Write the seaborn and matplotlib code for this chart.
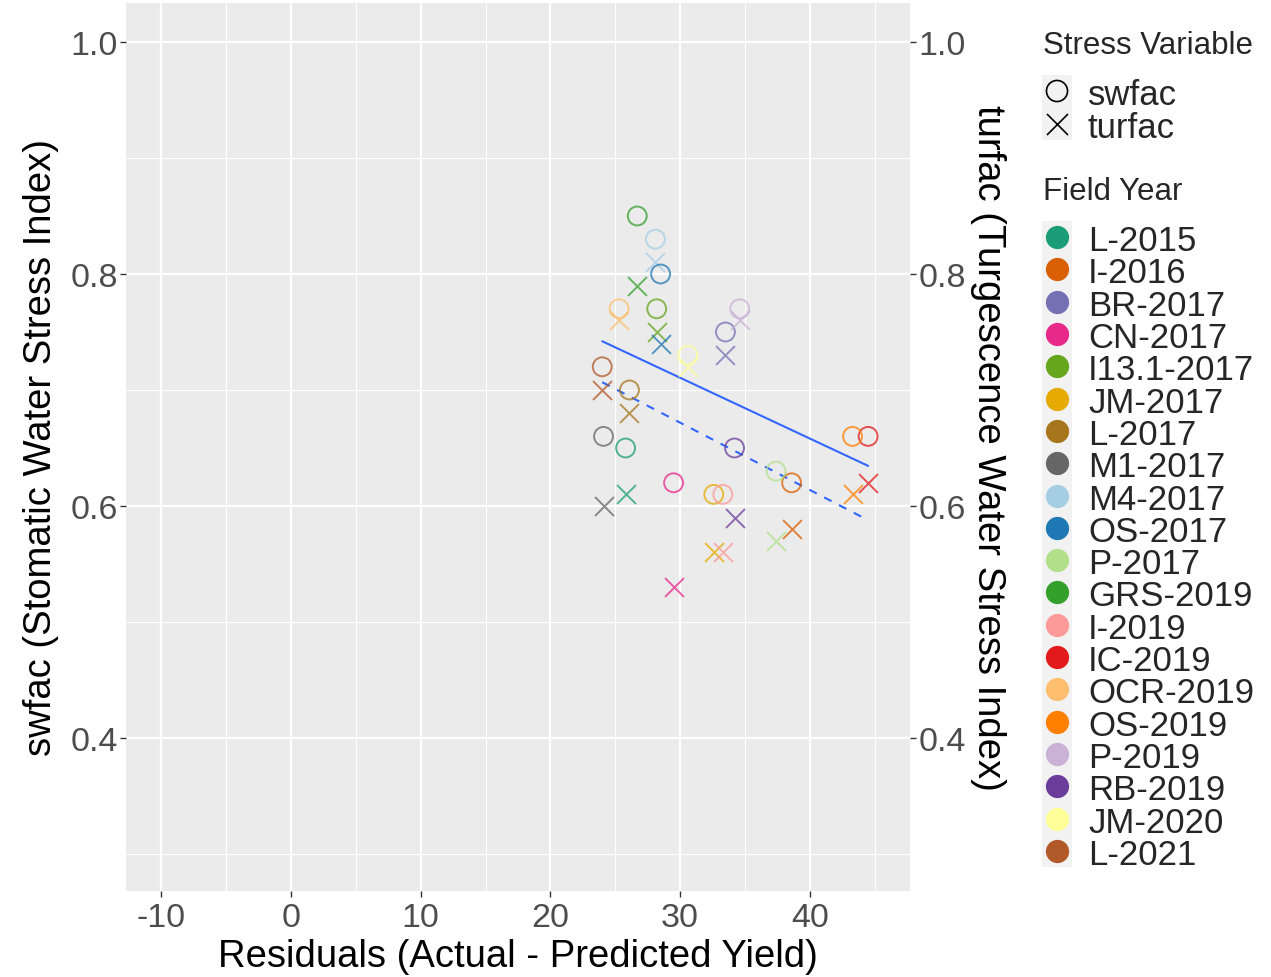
import numpy as np
import pandas as pd
import matplotlib
matplotlib.use("Agg")
import matplotlib.pyplot as plt
import seaborn as sns

# ---- data ----
field_years = ["L-2015", "I-2016", "BR-2017", "CN-2017", "I13.1-2017", "JM-2017", "L-2017",
               "M1-2017", "M4-2017", "OS-2017", "P-2017", "GRS-2019", "I-2019", "IC-2019",
               "OCR-2019", "OS-2019", "P-2019", "RB-2019", "JM-2020", "L-2021"]
residuals = [25.8, 38.6, 33.5, 29.5, 28.2, 32.6, 26.1, 24.1, 28.1, 28.5, 37.4, 26.7, 33.3,
             44.5, 25.3, 43.3, 34.6, 34.2, 30.6, 24.0]
swfac = [0.65, 0.62, 0.75, 0.62, 0.77, 0.61, 0.70, 0.66, 0.83, 0.80, 0.63, 0.85, 0.61,
         0.66, 0.77, 0.66, 0.77, 0.65, 0.73, 0.72]
turfac = [0.61, 0.58, 0.73, 0.53, 0.75, 0.56, 0.68, 0.60, 0.81, 0.74, 0.57, 0.79, 0.56,
          0.62, 0.76, 0.61, 0.76, 0.59, 0.72, 0.70]
colors = ["#1b9e77", "#d95f02", "#7570b3", "#e7298a", "#66a61e", "#e6ab02", "#a6761d",
          "#666666", "#a6cee3", "#1f78b4", "#b2df8a", "#33a02c", "#fb9a99", "#e31a1c",
          "#fdbf6f", "#ff7f00", "#cab2d6", "#6a3d9a", "#ffff99", "#b15928"]
stress_vars = ["swfac", "turfac"]
x_ticks = [-10, 0, 10, 20, 30, 40]
y_ticks = [0.4, 0.6, 0.8, 1.0]

df = pd.DataFrame({"field": field_years, "resid": residuals, "swfac": swfac, "turfac": turfac})

sns.set_theme(style="darkgrid")
plt.rcParams["font.family"] = ["Liberation Sans", "DejaVu Sans"]

W, H = 1271, 978
fig = plt.figure(figsize=(W / 100, H / 100), dpi=100)
L, R, T, B = 126, 910, 4, 892
ax = fig.add_axes([L / W, 1 - B / H, (R - L) / W, (B - T) / H])
ax.set_facecolor("#EBEBEB")
for s in ax.spines.values():
    s.set_visible(False)

xlim = (-12.72, 47.73)
ylim = (0.2681, 1.0336)
ax.set_xlim(*xlim)
ax.set_ylim(*ylim)
ax.set_xticks(x_ticks)
ax.set_yticks(y_ticks)
ax.set_xticks([-5, 5, 15, 25, 35, 45], minor=True)
ax.set_yticks([0.3, 0.5, 0.7, 0.9], minor=True)
ax.grid(which="major", color="white", linewidth=1.6)
ax.grid(which="minor", color="white", linewidth=0.8)
ax.set_axisbelow(True)
TICK_FS = 24.5
ax.tick_params(which="major", length=4, width=1.0, color="#333333", labelsize=TICK_FS,
               labelcolor="#4D4D4D", pad=2, left=True, bottom=True)
ax.tick_params(axis="x", which="major", pad=4)
ax.tick_params(which="minor", length=0)
ax.set_yticklabels([f"{v:.1f}" for v in y_ticks])
ax.set_xticklabels([str(v) for v in x_ticks])

# regression lines
sns.regplot(data=df, x="resid", y="swfac", scatter=False, ci=None, ax=ax,
            line_kws=dict(color="#3366FF", linewidth=1.5, linestyle="-"))
sns.regplot(data=df, x="resid", y="turfac", scatter=False, ci=None, ax=ax,
            line_kws=dict(color="#3366FF", linewidth=1.5, linestyle=(0, (4, 4))))
ax.set_xlim(*xlim)
ax.set_ylim(*ylim)

# points
for i in range(len(field_years)):
    ax.scatter(residuals[i], swfac[i], s=185, facecolors="none", edgecolors=colors[i],
               linewidths=1.4, alpha=0.75, zorder=3)
    ax.scatter(residuals[i], turfac[i], s=185, marker="x", color=colors[i],
               linewidths=1.4, alpha=0.75, zorder=3)

AX_FS = 27.5
ax.set_xlabel("Residuals (Actual - Predicted Yield)", fontsize=AX_FS, color="black")
ax.xaxis.set_label_coords(0.5, -(957 - B) / (B - T))
ax.xaxis.label.set_va("center")
ax.set_ylabel("swfac (Stomatic Water Stress Index)", fontsize=AX_FS, color="black")
ax.yaxis.set_label_coords((41 - L) / (R - L), 0.5)
ax.yaxis.label.set_va("center")

ax2 = ax.twinx()
ax2.set_ylim(*ylim)
ax2.set_yticks(y_ticks)
ax2.set_yticklabels([f"{v:.1f}" for v in y_ticks])
ax2.grid(False)
for s in ax2.spines.values():
    s.set_visible(False)
ax2.tick_params(which="major", length=4, width=1.0, color="#333333", labelsize=TICK_FS,
                labelcolor="#4D4D4D", pad=2, right=True)
ax2.set_ylabel("turfac (Turgescence Water Stress Index)", fontsize=AX_FS, color="black",
               rotation=270, va="center")
ax2.yaxis.set_label_coords((988 - L) / (R - L), 0.5)

# legends (manual, pixel coords)
lg = fig.add_axes([0, 0, 1, 1])
lg.set_xlim(0, W)
lg.set_ylim(H, 0)
lg.axis("off")
lg.patch.set_alpha(0)
kx, tx = 1057, 1088
TITLE_FS, LAB_FS = 22.5, 25
lg.text(1043, 46, "Stress Variable", fontsize=TITLE_FS, va="center", ha="left")
lg.add_patch(plt.Rectangle((1042, 76), 30, 65, color="#F2F2F2", lw=0))
lg.scatter([kx], [92], s=230, facecolors="none", edgecolors="black", linewidths=1.2)
lg.scatter([kx], [125], s=230, marker="x", color="black", linewidths=1.2)
for j, name in enumerate(stress_vars):
    lg.text(tx, 92 + 33 * j, name, fontsize=LAB_FS, va="center_baseline", ha="left")

lg.text(1043, 192, "Field Year", fontsize=TITLE_FS, va="center", ha="left")
step = (852 - 238) / 19
lg.add_patch(plt.Rectangle((1042, 222), 30, 646, color="#F2F2F2", lw=0))
for i, name in enumerate(field_years):
    yy = 238 + step * i
    lg.scatter([kx], [yy], s=280, color=colors[i], linewidths=0)
    lg.text(tx, yy, name, fontsize=LAB_FS, va="center_baseline", ha="left")

fig.savefig("out.png", dpi=100, facecolor="white")
